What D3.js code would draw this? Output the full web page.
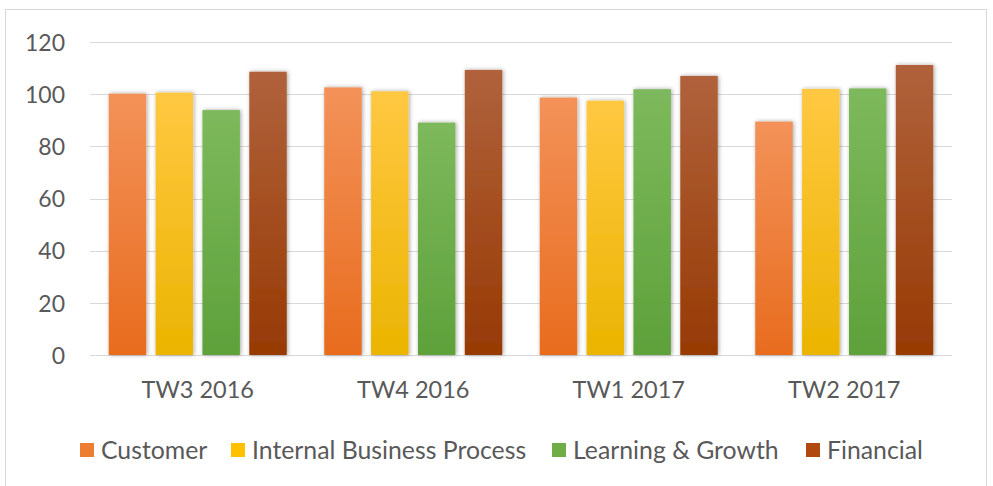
<!DOCTYPE html>
<html>
<head>
<meta charset="utf-8">
<script src="https://cdn.jsdelivr.net/npm/d3@7"></script>
<style>
  body { margin: 0; background: #fff; }
  text { font-family: Lato, "Open Sans", sans-serif; fill: #595959; }
</style>
</head>
<body>
<svg id="chart" width="993" height="486"></svg>
<script>
const categories = ["TW3 2016", "TW4 2016", "TW1 2017", "TW2 2017"];
const seriesNames = ["Customer", "Internal Business Process", "Learning & Growth", "Financial"];
const customer = [100.2, 102.6, 98.7, 89.5];
const internal = [100.6, 101.1, 97.5, 102.0];
const learning = [93.9, 89.1, 101.9, 102.2];
const financial = [108.6, 109.3, 107.0, 111.2];
const yTicks = [0, 20, 40, 60, 80, 100, 120];

const seriesValues = [customer, internal, learning, financial];
// top, bottom gradient colours and legend colour
const colors = [
    { top: "#F39259", bottom: "#E86C1E", flat: "#ED7D31" },
    { top: "#FFC842", bottom: "#EBB400", flat: "#FFC000" },
    { top: "#7DB95C", bottom: "#5EA13A", flat: "#70AD47" },
    { top: "#B0623C", bottom: "#973A04", flat: "#B0490F" }
];

const svg = d3.select("#chart");
const margin = { left: 90, right: 41, top: 42, bottom: 131 };
const width = 993, height = 486;

// chart border
svg.append("rect")
    .attr("x", 5.5).attr("y", 9.5)
    .attr("width", 981).attr("height", 490)
    .attr("fill", "none")
    .attr("stroke", "#d9d9d9");

const defs = svg.append("defs");
colors.forEach((c, i) => {
    const g = defs.append("linearGradient")
        .attr("id", "grad" + i)
        .attr("x1", 0).attr("y1", 0).attr("x2", 0).attr("y2", 1);
    g.append("stop").attr("offset", "0%").attr("stop-color", c.top);
    g.append("stop").attr("offset", "100%").attr("stop-color", c.bottom);
});
const shadow = defs.append("filter").attr("id", "shadow")
    .attr("x", "-30%").attr("y", "-10%").attr("width", "160%").attr("height", "120%");
shadow.append("feDropShadow")
    .attr("dx", 1).attr("dy", 0).attr("stdDeviation", 2.2)
    .attr("flood-color", "#000").attr("flood-opacity", 0.35);

const x0 = d3.scaleBand()
    .domain(categories)
    .range([margin.left, width - margin.right])
    .paddingInner(0).paddingOuter(0);

const x1 = d3.scaleBand()
    .domain(seriesNames)
    .range([0, x0.bandwidth()])
    .paddingInner(0.2).paddingOuter(0.4);

const y = d3.scaleLinear()
    .domain([0, 120])
    .range([height - margin.bottom, margin.top]);

// gridlines
svg.append("g")
    .selectAll("line")
    .data(yTicks).enter()
        .append("line")
            .attr("x1", margin.left)
            .attr("x2", width - margin.right)
            .attr("y1", d => Math.round(y(d)) + 0.5)
            .attr("y2", d => Math.round(y(d)) + 0.5)
            .attr("stroke", "#d9d9d9")
            .attr("stroke-width", 1);

// y axis labels
const yAxis = svg.append("g")
    .attr("transform", `translate(${margin.left - 25},0)`)
    .call(d3.axisLeft(y).tickValues(yTicks).tickSize(0).tickPadding(0));
yAxis.select(".domain").remove();
yAxis.selectAll("text")
    .style("font-size", "23px")
    .style("font-family", "Lato, sans-serif")
    .attr("fill", "#595959")
    .attr("dy", "0.36em");

// bars
const groups = svg.append("g")
    .selectAll("g")
    .data(categories).enter()
        .append("g")
            .attr("transform", d => `translate(${x0(d)},0)`);

groups.selectAll("rect")
    .data((d, ci) => seriesNames.map((s, si) => ({ series: s, si: si, value: seriesValues[si][ci] })))
    .enter()
        .append("rect")
            .attr("x", d => x1(d.series))
            .attr("y", d => y(d.value))
            .attr("width", x1.bandwidth())
            .attr("height", d => y(0) - y(d.value))
            .attr("fill", d => `url(#grad${d.si})`)
            .attr("filter", "url(#shadow)");

// category labels
const xAxis = svg.append("g")
    .attr("transform", `translate(0,${y(0)})`)
    .call(d3.axisBottom(x0).tickSize(0).tickPadding(26));
xAxis.select(".domain").remove();
xAxis.selectAll("text")
    .style("font-size", "23.5px")
    .style("font-family", "Lato, sans-serif")
    .attr("fill", "#595959");

// legend
const legendX = [80, 231, 552, 806];
const legend = svg.append("g")
    .attr("transform", "translate(0,443)");
const items = legend.selectAll("g")
    .data(seriesNames).enter()
        .append("g")
            .attr("transform", (d, i) => `translate(${legendX[i]},0)`);
items.append("rect")
    .attr("width", 14).attr("height", 14)
    .attr("fill", (d, i) => colors[i].flat);
items.append("text")
    .attr("x", 21).attr("y", 7)
    .attr("dy", "0.36em")
    .style("font-size", "24.8px")
    .text(d => d);
</script>
</body>
</html>
